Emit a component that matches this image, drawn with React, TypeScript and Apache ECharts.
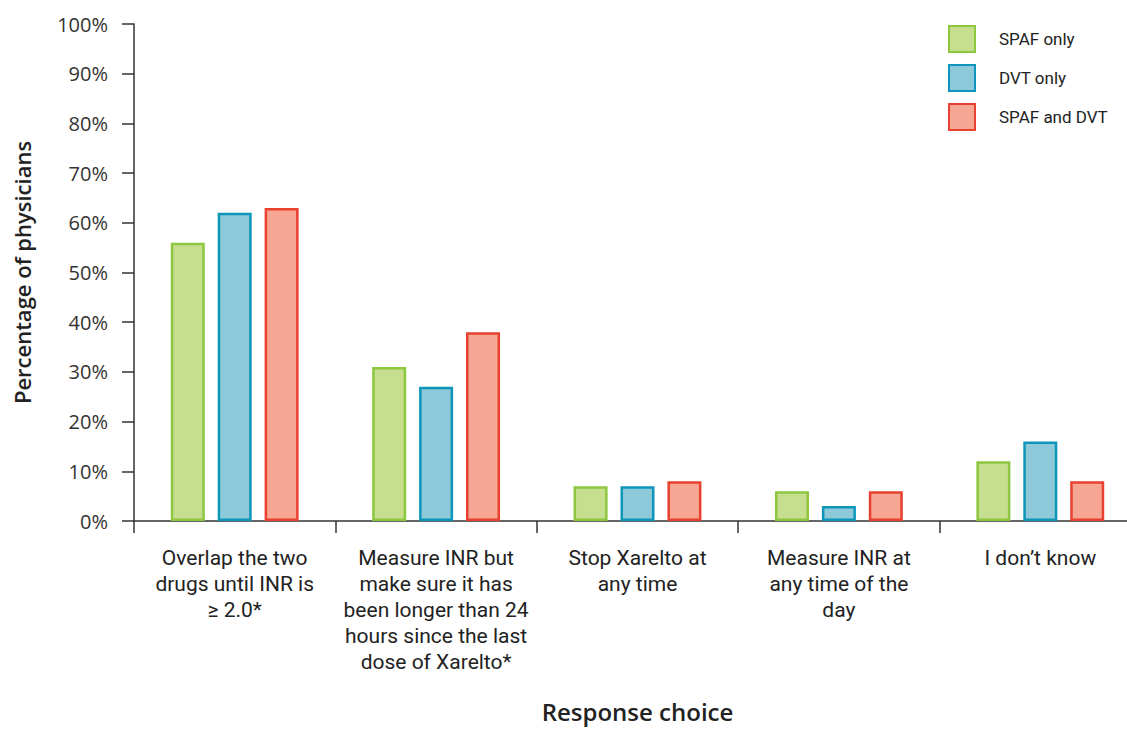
import React, { useEffect, useRef } from "react";
import * as echarts from "echarts";

// Response options shown on the category axis
const categories = [
  "Overlap the two\ndrugs until INR is\n≥ 2.0*",
  "Measure INR but\nmake sure it has\nbeen longer than 24\nhours since the last\ndose of Xarelto*",
  "Stop Xarelto at\nany time",
  "Measure INR at\nany time of the\nday",
  "I don’t know",
];

// Percentage of physicians choosing each response
const spafOnly = [56, 31, 7, 6, 12];
const dvtOnly = [62, 27, 7, 3, 16];
const spafAndDvt = [63, 38, 8, 6, 8];

const seriesNames = ["SPAF only", "DVT only", "SPAF and DVT"];
const fills = ["#c6df8f", "#8ec9d9", "#f7a694"];
const borders = ["#8dc63f", "#0e95ba", "#e8412f"];

const yTicks = [0, 10, 20, 30, 40, 50, 60, 70, 80, 90, 100];

const wideFont = "'Open Sans', Lato, sans-serif";
const narrowFont = "Roboto, 'Liberation Sans Narrow', sans-serif";

export default function App() {
  const ref = useRef<HTMLDivElement>(null);

  useEffect(() => {
    const chart = echarts.init(ref.current!, undefined, { renderer: "svg" });
    const values = [spafOnly, dvtOnly, spafAndDvt];

    chart.setOption({
      animation: false,
      backgroundColor: "#ffffff",
      grid: {
        left: 134,
        right: -14,
        top: 24,
        bottom: 210,
        containLabel: false,
        outerBoundsMode: "none",
      },
      legend: {
        orient: "vertical",
        left: 948,
        top: 25,
        padding: 0,
        itemWidth: 26,
        itemHeight: 26,
        itemGap: 11,
        icon: "rect",
        data: seriesNames,
        textStyle: {
          fontFamily: narrowFont,
          fontSize: 17,
          color: "#222",
          padding: [0, 0, 0, 19],
        },
      },
      xAxis: {
        type: "category",
        data: categories,
        axisLine: { lineStyle: { color: "#333", width: 1.5 } },
        axisTick: { show: true, length: 12, lineStyle: { color: "#333", width: 1.5 } },
        axisLabel: {
          margin: 24,
          interval: 0,
          fontFamily: narrowFont,
          fontSize: 21,
          lineHeight: 26,
          color: "#222",
          align: "center",
        },
        name: "Response choice",
        nameLocation: "middle",
        nameGap: 178,
        nameTextStyle: {
          fontFamily: wideFont,
          fontSize: 24,
          lineHeight: 24,
          fontWeight: 600,
          color: "#222",
        },
      },
      yAxis: {
        type: "value",
        min: 0,
        max: 100,
        interval: 10,
        splitLine: { show: false },
        axisLine: { show: true, lineStyle: { color: "#333", width: 1.5 } },
        axisTick: { show: true, length: 12, lineStyle: { color: "#333", width: 1.5 } },
        axisLabel: {
          margin: 26,
          fontFamily: wideFont,
          fontSize: 20,
          color: "#333",
          formatter: (v: number) => (yTicks.includes(v) ? `${v}%` : ""),
        },
        name: "Percentage of physicians",
        nameLocation: "middle",
        nameGap: 101,
        nameTextStyle: {
          fontFamily: wideFont,
          fontSize: 22,
          fontWeight: 600,
          color: "#222",
        },
      },
      series: seriesNames.map((name, i) => ({
        name,
        type: "bar",
        data: values[i],
        barWidth: 34,
        barGap: "38%",
        itemStyle: {
          color: fills[i],
          borderColor: borders[i],
          borderWidth: 2.5,
        },
      })),
    });

    return () => chart.dispose();
  }, []);

  return (
    <div
      ref={ref}
      style={{ position: "fixed", left: 0, top: 0, width: 1127, height: 731 }}
    />
  );
}
